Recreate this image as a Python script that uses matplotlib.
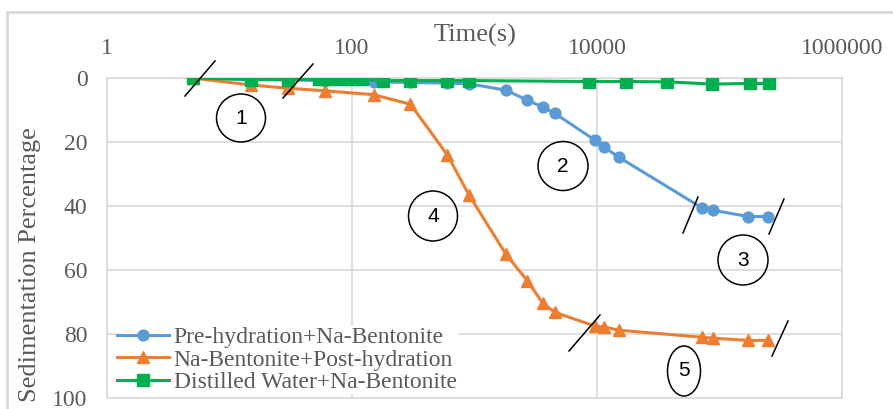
import matplotlib
matplotlib.use('Agg')
import matplotlib.pyplot as plt
from matplotlib.patches import Ellipse, Rectangle
from matplotlib.lines import Line2D

# sampling times (s) and sedimentation percentage
time_pre = [5, 15, 30, 60, 150, 300, 600, 900, 1800, 2700, 3600, 4500,
            9600, 11400, 15000, 72000, 88000, 172000, 250000]
sed_pre = [0, 0.4, 0.6, 0.8, 1.2, 1.4, 1.6, 1.8, 3.8, 6.9, 9.1, 11.0,
           19.4, 21.6, 24.7, 40.6, 41.3, 43.3, 43.3]

time_post = [5, 15, 30, 60, 150, 300, 600, 900, 1800, 2700, 3600, 4500,
             9600, 11400, 15000, 72000, 88000, 172000, 250000]
sed_post = [0, 2.2, 3.2, 4.0, 5.2, 8.2, 24.0, 36.5, 55.0, 63.4, 70.3, 73.2,
            77.5, 77.8, 78.8, 81.0, 81.3, 82.0, 82.0]

time_dw = [5, 15, 30, 54, 66, 81, 100, 121, 179, 300, 600, 900,
           8600, 17300, 37300, 87000, 177000, 253000]
sed_dw = [0, 0.5, 0.5, 0.4, 0.4, 0.4, 0.4, 0.4, 0.8, 0.8, 0.8, 0.8,
          1.1, 1.1, 1.2, 1.9, 1.7, 1.7]

labels = ['Pre-hydration+Na-Bentonite', 'Na-Bentonite+Post-hydration',
          'Distilled Water+Na-Bentonite']
xticks = [1, 100, 10000, 1000000]
xtick_labels = ['1', '100', '10000', '1000000']
yticks = [0, 20, 40, 60, 80, 100]

W, H = 893, 409
plt.rcParams['font.family'] = ['Liberation Serif', 'DejaVu Serif']

fig = plt.figure(figsize=(W / 100, H / 100), dpi=100)
ax = fig.add_axes([107 / W, (H - 398) / H, 735 / W, 320 / H])

grid_c = '#d9d9d9'
text_c = '#595959'

ax.plot(time_pre, sed_pre, color='#5b9bd5', lw=2.2, marker='o', ms=7.8,
        label=labels[0], zorder=3)
ax.plot(time_post, sed_post, color='#ed7d31', lw=2.2, marker='^', ms=9,
        label=labels[1], zorder=3)
ax.plot(time_dw, sed_dw, color='#00b050', lw=2.2, marker='s', ms=8.5,
        label=labels[2], zorder=4)

ax.set_xscale('log')
ax.set_xlim(1, 1000000)
ax.set_ylim(100, 0)
ax.set_xticks(xticks)
ax.set_xticklabels(xtick_labels)
ax.minorticks_off()
ax.set_yticks(yticks)
ax.xaxis.tick_top()
ax.tick_params(axis='x', length=0, pad=14, labelsize=17, labelcolor=text_c)
ax.tick_params(axis='y', length=0, pad=14, labelsize=17, labelcolor=text_c)
ax.grid(True, color=grid_c, lw=1.2)
ax.set_axisbelow(True)
for s in ax.spines.values():
    s.set_color(grid_c)
    s.set_linewidth(1.2)

ax.text(0.5, 1 + 43 / 320, 'Time(s)', transform=ax.transAxes, ha='center',
        va='center', fontsize=19, color=text_c)
fig.text(30 / W, 1 - 265 / H, 'Sedimentation Percentage', rotation=90,
         ha='center', va='center', fontsize=19, color=text_c)

leg = ax.legend(loc='center left', bbox_to_anchor=(116 / W, 1 - 360 / H),
                bbox_transform=fig.transFigure, fontsize=17, frameon=True,
                edgecolor='none', facecolor='white', framealpha=1,
                borderpad=0.05, borderaxespad=0, handlelength=2.2,
                handletextpad=0.2, labelspacing=0.04)
for t in leg.get_texts():
    t.set_color(text_c)

# outer chart border
fig.add_artist(Rectangle((7 / W, -0.02), 1.0, 1 - 12 / H + 0.02,
                         transform=fig.transFigure, fill=False,
                         edgecolor=grid_c, lw=2))

# circled stage numbers (pixel centre x, y, width, height)
circles = [('1', 241, 118, 49, 48), ('2', 563, 166, 50, 49),
           ('3', 743, 260, 50, 50), ('4', 433, 216, 49, 50),
           ('5', 684, 371, 33, 50)]
for num, cx, cy, w, h in circles:
    fig.add_artist(Ellipse((cx / W, 1 - cy / H), w / W, h / H,
                           transform=fig.transFigure, fill=False,
                           edgecolor='black', lw=1.1))
    fig.text(cx / W, 1 - cy / H, num, ha='center', va='center',
             fontsize=15, family='Liberation Sans', color='black')

# break marks
slashes = [(185, 96, 215, 61), (283, 98, 313, 64), (683, 233, 698, 197),
           (769, 234, 784, 199), (569, 351, 600, 315), (772, 356, 788, 321)]
for x0, y0, x1, y1 in slashes:
    fig.add_artist(Line2D([x0 / W, x1 / W], [1 - y0 / H, 1 - y1 / H],
                          transform=fig.transFigure, color='black', lw=1.1))

fig.savefig('out.png', dpi=100)
